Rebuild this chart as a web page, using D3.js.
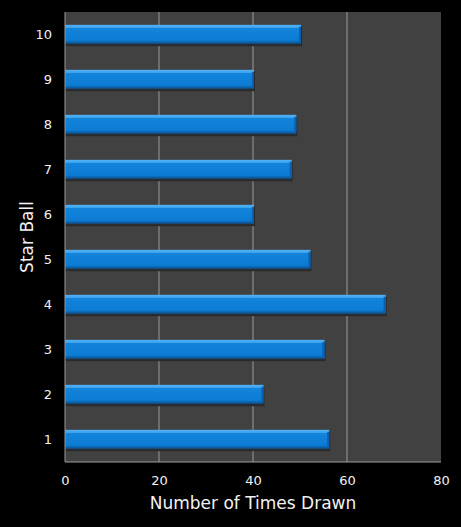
<!DOCTYPE html>
<html lang="en">
<head>
    <meta charset="UTF-8">
    <title>Star Ball Frequency</title>
    <script src="https://d3js.org/d3.v7.min.js"></script>
    <style>
        body {
            margin: 0;
            background: #000;
        }

        svg text {
            font-family: "DejaVu Sans", Verdana, sans-serif;
            fill: #f2f2f2;
        }
    </style>
</head>
<body>
    <div id="chart"></div>
    <script>
        // star ball numbers, bottom to top
        const balls = ['1', '2', '3', '4', '5', '6', '7', '8', '9', '10'];
        const timesDrawn = [56, 42, 55, 68, 52, 40, 48, 49, 40, 50];
        const xTicks = [0, 20, 40, 60, 80];

        const width = 461;
        const height = 527;
        const margin = { top: 12, right: 20, bottom: 65, left: 65 };
        const innerW = width - margin.left - margin.right;
        const innerH = height - margin.top - margin.bottom;

        const data = balls.map((b, i) => ({ ball: b, value: timesDrawn[i] }));

        const svg = d3.select('#chart')
            .append('svg')
            .attr('width', width)
            .attr('height', height);

        const defs = svg.append('defs');
        const grad = defs.append('linearGradient')
            .attr('id', 'barGrad')
            .attr('x1', 0).attr('y1', 0)
            .attr('x2', 0).attr('y2', 1);
        grad.append('stop').attr('offset', '0%').attr('stop-color', '#52b4f7');
        grad.append('stop').attr('offset', '14%').attr('stop-color', '#3ea2ec');
        grad.append('stop').attr('offset', '18%').attr('stop-color', '#1284dc');
        grad.append('stop').attr('offset', '80%').attr('stop-color', '#0c7bd4');
        grad.append('stop').attr('offset', '90%').attr('stop-color', '#0b62ac');
        grad.append('stop').attr('offset', '100%').attr('stop-color', '#1b3f63');

        const g = svg.append('g')
            .attr('transform', `translate(${margin.left},${margin.top})`);

        const x = d3.scaleLinear()
            .domain([0, 80])
            .range([0, innerW]);

        // top of the chart is the last ball
        const y = d3.scaleBand()
            .domain(balls.slice().reverse())
            .range([0, innerH])
            .paddingInner(0.57)
            .paddingOuter(0.285);

        g.append('rect')
            .attr('width', innerW)
            .attr('height', innerH)
            .attr('fill', '#414141');

        // vertical gridlines
        g.selectAll('.grid')
            .data(xTicks.slice(1, -1))
            .enter().append('line')
            .attr('class', 'grid')
            .attr('x1', d => x(d))
            .attr('x2', d => x(d))
            .attr('y1', 0)
            .attr('y2', innerH)
            .attr('stroke', '#9a9a9a')
            .attr('stroke-width', 1);

        // drop shadow under each bar
        g.selectAll('.shadow')
            .data(data)
            .enter().append('rect')
            .attr('class', 'shadow')
            .attr('x', 0)
            .attr('y', d => y(d.ball) + 2)
            .attr('width', d => x(d.value) + 2)
            .attr('height', y.bandwidth())
            .attr('fill', '#2a2a2a');

        g.selectAll('.bar')
            .data(data)
            .enter().append('rect')
            .attr('class', 'bar')
            .attr('x', 0)
            .attr('y', d => y(d.ball))
            .attr('width', d => x(d.value) + 1)
            .attr('height', y.bandwidth())
            .attr('fill', 'url(#barGrad)');

        // darker right end of bar
        g.selectAll('.barEnd')
            .data(data)
            .enter().append('rect')
            .attr('class', 'barEnd')
            .attr('x', d => x(d.value) - 1)
            .attr('y', d => y(d.ball) + 2)
            .attr('width', 2)
            .attr('height', y.bandwidth() - 3)
            .attr('fill', '#0a5fb0');

        // plot frame: left and bottom lines
        g.append('line')
            .attr('x1', 0).attr('x2', 0)
            .attr('y1', 0).attr('y2', innerH)
            .attr('stroke', '#9a9a9a');
        g.append('line')
            .attr('x1', 0).attr('x2', innerW)
            .attr('y1', innerH).attr('y2', innerH)
            .attr('stroke', '#9a9a9a');

        const xAxis = g.append('g')
            .attr('transform', `translate(0,${innerH})`)
            .call(d3.axisBottom(x).tickValues(xTicks).tickSize(0).tickPadding(14));
        xAxis.select('.domain').remove();
        xAxis.selectAll('text').style('font-size', '13px');

        const yAxis = g.append('g')
            .call(d3.axisLeft(y).tickSize(0).tickPadding(13));
        yAxis.select('.domain').remove();
        yAxis.selectAll('text').style('font-size', '13px');

        svg.append('text')
            .attr('x', margin.left + innerW / 2)
            .attr('y', 509)
            .attr('text-anchor', 'middle')
            .style('font-size', '17px')
            .text('Number of Times Drawn');

        svg.append('text')
            .attr('transform', `translate(33,${margin.top + innerH / 2}) rotate(-90)`)
            .attr('text-anchor', 'middle')
            .style('font-size', '17px')
            .text('Star Ball');
    </script>
</body>
</html>
